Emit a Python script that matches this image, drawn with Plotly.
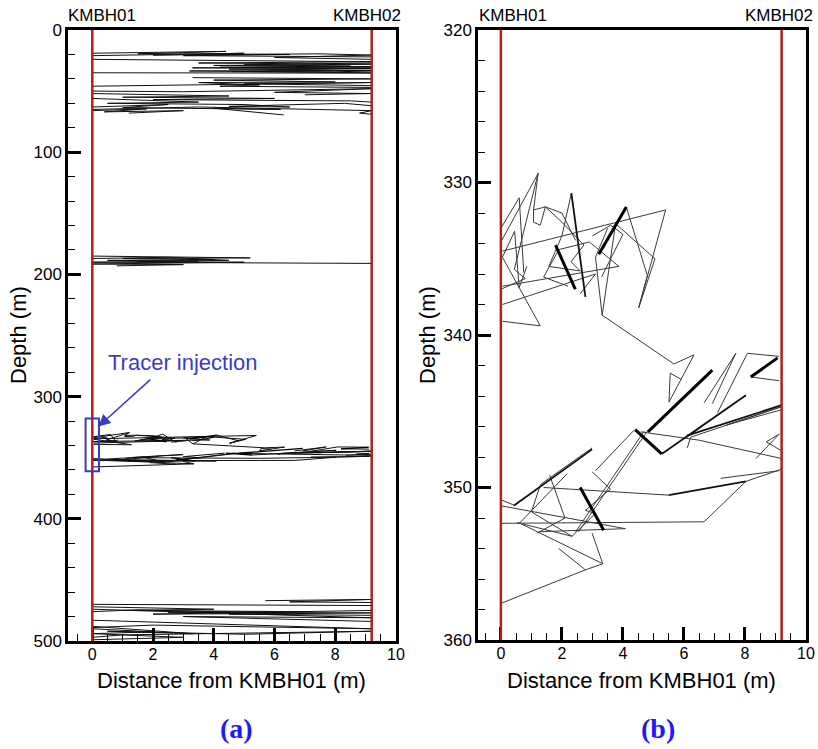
import plotly.graph_objects as go

# ---------------- data (x = distance from KMBH01 [m], d = depth [m]); None separates tracks
borehole_x = [0.0, 9.2]
borehole_names = ["KMBH01", "KMBH02"]

shallow_x = [0, 4.4, 1.5, 6.5, 3.0, 9.2, None,
             0, 5.0, 2.0, 7.5, 9.2, 6.0, 9.2, None,
             0, 9.2, 3.5, 9.2, 4.0, 9.2, 3.3, 9.2, 4.5, 9.2, 3.2, 9.2, None,
             0, 9.2, None,
             9.2, 5.0, 8.5, 4.2, 9.2, 5.8, 9.2, 4.6, 8.0, 9.2, None,
             3.3, 9.2, 4.0, 8.0, 3.5, 5.5, 4.2, 9.2, None,
             0, 9.2, 5.0, 9.2, None,
             0, 3.0, 9.2, 6.0, 9.2, 7.0, None,
             0, 4.5, 1.0, 6.0, 2.0, 8.5, 9.2, None,
             0, 3.5, 0.5, 5.0, 6.5, 4.5, 8.3, 9.2, None,
             0, 2.5, 1.0, 6.2, 4.0, 6.3, None,
             0, 3.5, 9.2, 8.8, 9.2, None,
             0, 1.8, 0.4, 3.0, 1.2]
shallow_d = [19, 17.5, 19.5, 20, 21, 22, None,
             21, 19, 20.5, 19.5, 20.5, 22.5, 24, None,
             24, 26, 27, 28, 29, 30, 31, 31.5, 32, 33, 33.5, 35, None,
             35, 35.3, None,
             27, 28.5, 29.5, 30.5, 31, 32.5, 33.5, 34, 34.5, 33, None,
             39, 40, 41, 42.5, 43, 45, 46, 47, None,
             46, 43, 44, 45.5, None,
             50, 50.5, 48, 51, 52, 53, None,
             52, 54, 55, 56, 57, 58, 59, None,
             56, 59, 60, 61, 63, 62.5, 60, 62, None,
             63, 61, 63.5, 65, 64, 69.5, None,
             65, 63, 66, 68, 69, None,
             66, 64.5, 67, 66, 68]

mid_x = [0, 5.2, 1.0, 4.0, 0.5, 3.5, 0, 9.2, None,
         0, 2.5, 4.5, 1.5, 5.0, 0, 3.0, 0.8]
mid_d = [185, 186.5, 187, 188, 188.5, 189, 190, 191, None,
         187, 186, 188.5, 189.5, 190, 191.5, 192, 193]

deep_x = [0, 9.2, None,
          5.7, 9.2, 6.5, 9.2, None,
          0, 4.0, 1.0, 7.0, 2.5, 9.2, 4.5, 9.2, None,
          0, 6.0, 9.2, 3.0, 9.2, None,
          0, 9.2, 2.0, 0, None,
          0, 3.3, 0.5, 5.0, 9.2, 1.0, 0, None,
          0, 2.0, 0, 3.0, 0, None,
          0, 1.5, 6.5, 2.0, 9.2]
deep_d = [470, 471, None,
          467, 466, 468, 468.5, None,
          472, 474, 475, 476, 476.5, 477, 478, 479, None,
          474, 478.5, 481, 480, 484, None,
          483, 490, 487, 489, None,
          488, 494, 492, 494.5, 492, 495, 497, None,
          490, 492.5, 494, 497, 499, None,
          476, 474.5, 477.5, 478, 475]

inj_thin_x = [0.0, 1.22, 0.44, 0.8, 0.0, None,
              1.22, 1.07, 1.46, 1.29, 1.07, 1.07, None,
              1.46, 2.0, 2.72, 2.3, 2.6, 1.57, 2.0, 2.31, None,
              0.05, 5.4, 4.52, 5.05, 3.76, 3.32, 3.1, 3.5, None,
              4.11, 4.8, 4.52, None,
              0.05, 3.87, 2.9, 1.9, 1.4, 2.2, None,
              0.05, 3.1, 2.6, None,
              0.05, 1.29, 0.05, 0.45, 0.6, 0.85, None,
              0.0, 0.6, 0.75, None,
              1.46, 2.0, 2.45, None,
              3.0, 3.6, 4.0, 3.3, None,
              3.32, 5.67, 6.33, 5.51, 5.55, 5.9, None,
              6.66, 7.7, 6.93, None,
              9.12, 8.08, 7.1, None,
              8.19, 9.12, None,
              6.11, 6.22, 9.2, 7.4, 9.2, None,
              8.03, 6.1, None,
              8.36, 9.12, 8.7, 9.2, None,
              9.12, 7.2, None,
              4.58, 6.5, 9.2, None,
              3.1, 4.36, None,
              2.45, 4.7, None,
              2.55, 4.8, None,
              0.0, 0.42, None,
              0.0, 4.08, 1.24, None,
              1.4, 5.5, None,
              0.0, 6.66, 8.03, 9.2, None,
              0.58, 2.17, None,
              2.99, 3.59, 2.77, 3.1, None,
              0.53, 2.33, 3.1, None,
              0.63, 3.34, 2.99, None,
              3.34, 2.77, 0.0, None,
              1.89, 2.77, None,
              2.99, 1.3, 1.0, 2.33, None,
              1.6, 2.1, 1.18]
inj_thin_d = [333.9, 329.4, 335.7, 336.3, 337.0, None,
              329.4, 331.8, 331.6, 332.8, 332.6, 331.8, None,
              331.6, 332.6, 334.1, 335.2, 335.8, 335.5, 333.5, 330.7, None,
              334.5, 331.8, 338.2, 335.0, 332.7, 338.7, 334.9, 333.0, None,
              331.6, 336.1, 338.2, None,
              336.8, 335.5, 333.9, 334.4, 336.2, 336.8, None,
              338.0, 336.0, 337.3, None,
              339.1, 339.4, 334.9, 333.2, 336.9, 335.5, None,
              333.0, 331.0, 335.9, None,
              331.6, 332.0, 333.8, None,
              333.5, 332.8, 333.4, 336.2, None,
              338.7, 341.9, 341.3, 344.4, 342.5, 342.9, None,
              344.45, 341.2, 344.5, None,
              341.4, 341.2, 345.1, None,
              342.75, 343.0, None,
              347.4, 346.7, 344.7, 345.9, 344.9, None,
              343.95, 346.7, None,
              348.1, 346.5, 347.0, 347.6, None,
              348.9, 349.4, None,
              346.35, 346.9, 348.1, None,
              348.9, 346.25, None,
              352.9, 346.3, None,
              352.9, 346.3, None,
              350.8, 351.15, None,
              351.2, 352.7, 352.9, None,
              350.0, 350.5, None,
              352.35, 352.25, 349.6, 348.8, None,
              352.4, 349.1, None,
              348.97, 350.1, 351.5, 351.7, None,
              352.3, 353.2, 351.7, None,
              352.35, 355.0, 353.0, None,
              355.0, 355.4, 357.6, None,
              353.99, 355.4, None,
              347.4, 349.8, 351.6, 353.2, None,
              349.2, 352.0, 353.0]

inj_mid_x = [2.31, 2.77, None, 5.27, 8.03, None, 0.42, 2.99, None, 5.5, 8.03, None, 6.1, 9.2]
inj_mid_d = [330.7, 337.5, None, 347.8, 343.95, None, 351.2, 347.5, None, 350.5, 349.6, None, 346.6, 344.6]

inj_thick_x = [1.79, 2.44, None, 4.11, 3.21, None, 4.82, 6.93, None, 4.4, 5.27, None,
               8.19, 9.07, None, 2.6, 3.37]
inj_thick_d = [334.1, 337.0, None, 331.6, 334.7, None, 346.35, 342.3, None, 346.2, 347.8, None,
               342.75, 341.5, None, 350.0, 352.8]

injection_box_x = [-0.22, 0.22]
injection_box_d = [318, 361]

# ---------------- figure
FONT = "Liberation Sans, Arial, sans-serif"
W, H = 818, 749
fig = go.Figure()

for xa, ya, big in (("x", "y", True), ("x2", "y2", False)):
    thin_col = "#111111" if big else "#3a3a3a"
    for xs, ds in ((shallow_x, shallow_d), (mid_x, mid_d), (deep_x, deep_d)):
        fig.add_trace(go.Scatter(x=xs, y=ds, mode="lines", xaxis=xa, yaxis=ya,
                                 line=dict(color="#111111", width=1), hoverinfo="skip",
                                 showlegend=False, connectgaps=False))
    fig.add_trace(go.Scatter(x=inj_thin_x, y=inj_thin_d, mode="lines", xaxis=xa, yaxis=ya,
                             line=dict(color=thin_col, width=1), hoverinfo="skip",
                             showlegend=False, connectgaps=False))
    fig.add_trace(go.Scatter(x=inj_mid_x, y=inj_mid_d, mode="lines", xaxis=xa, yaxis=ya,
                             line=dict(color="#111111", width=1 if big else 1.8),
                             hoverinfo="skip", showlegend=False, connectgaps=False))
    fig.add_trace(go.Scatter(x=inj_thick_x, y=inj_thick_d, mode="lines", xaxis=xa, yaxis=ya,
                             line=dict(color="#000000", width=1.3 if big else 3),
                             hoverinfo="skip", showlegend=False, connectgaps=False))

# borehole red lines
for xa, ya in (("x", "y"), ("x2", "y2")):
    for bx in borehole_x:
        fig.add_shape(type="line", xref=xa, yref=f"{ya} domain", x0=bx, x1=bx, y0=0, y1=1,
                      line=dict(color="#b3201c", width=2.5), layer="above")

# injection box
blue = "#3b3bc6"
fig.add_shape(type="rect", xref="x", yref="y", x0=injection_box_x[0], x1=injection_box_x[1],
              y0=injection_box_d[0], y1=injection_box_d[1],
              line=dict(color=blue, width=2), layer="above")

axis_common = dict(showline=True, mirror=True, linewidth=2.5, linecolor="black",
                   ticks="inside", ticklen=13, tickwidth=2.5, tickcolor="black",
                   showgrid=False, zeroline=False, automargin=False)
yfont = dict(family=FONT, size=17, color="black")
xfont = dict(family=FONT, size=16, color="black")

fig.update_layout(
    width=W, height=H, autosize=False,
    margin=dict(l=0, r=0, t=0, b=0, autoexpand=False),
    paper_bgcolor="white", plot_bgcolor="white",
    xaxis=dict(domain=[68 / W, 396 / W], anchor="y", range=[-0.8, 10], tick0=0, dtick=2,
               tickfont=xfont, ticklabelstandoff=-3,
               minor=dict(ticks="inside", ticklen=7, tickwidth=1, tickcolor="black", dtick=0.5,
                          showgrid=False),
               **axis_common),
    yaxis=dict(domain=[1 - 641 / H, 1 - 30 / H], anchor="x", range=[500, 0], tick0=0, dtick=100,
               tickfont=yfont,
               minor=dict(ticks="inside", ticklen=7, tickwidth=1, tickcolor="black", dtick=20,
                          showgrid=False),
               **axis_common),
    xaxis2=dict(domain=[478 / W, 806 / W], anchor="y2", range=[-0.75, 10], tick0=0, dtick=2,
                tickfont=xfont, ticklabelstandoff=-3,
                minor=dict(ticks="inside", ticklen=7, tickwidth=1, tickcolor="black", dtick=0.5,
                           showgrid=False),
                **axis_common),
    yaxis2=dict(domain=[1 - 640 / H, 1 - 30 / H], anchor="x2", range=[360, 320], tick0=320,
                dtick=10, tickfont=yfont,
                minor=dict(ticks="inside", ticklen=7, tickwidth=1, tickcolor="black", dtick=2,
                           showgrid=False),
                **axis_common),
)

ann = []
# borehole labels
for xref, xs in (("x", (0.33, 9.05)), ("x2", (0.39, 9.1))):
    for name, xv in zip(borehole_names, xs):
        ann.append(dict(text=name, xref=xref, yref="paper", x=xv, y=1 - 15 / H,
                        xanchor="center", yanchor="middle", showarrow=False,
                        font=dict(family=FONT, size=17, color="black")))
# axis titles
for cx in (18, 427):
    ann.append(dict(text="Depth (m)", xref="paper", yref="paper", x=cx / W, y=1 - 335 / H,
                    textangle=-90, showarrow=False, xanchor="center", yanchor="middle",
                    font=dict(family=FONT, size=22, color="black")))
for cx in (232, 641):
    ann.append(dict(text="Distance from KMBH01 (m)", xref="paper", yref="paper", x=cx / W,
                    y=1 - 680 / H, showarrow=False, xanchor="center", yanchor="middle",
                    font=dict(family=FONT, size=22, color="black")))
# captions
for txt, cx in (("(a)", 237), ("(b)", 658)):
    ann.append(dict(text=f"<b>{txt}</b>", xref="paper", yref="paper", x=cx / W, y=1 - 728 / H,
                    showarrow=False, xanchor="center", yanchor="middle",
                    font=dict(family="Liberation Serif, Times New Roman, serif", size=28,
                              color="#1a1aff")))
# tracer injection
ann.append(dict(text="Tracer injection", xref="paper", yref="paper", x=183 / W, y=1 - 362 / H,
                showarrow=False, xanchor="center", yanchor="middle",
                font=dict(family=FONT, size=22, color=blue)))
ann.append(dict(text="", xref="x", yref="y", x=0.2, y=324.5, axref="x", ayref="y",
                ax=1.96, ay=285, showarrow=True, arrowhead=2, arrowsize=1.6,
                arrowwidth=1.5, arrowcolor=blue))
fig.update_layout(annotations=ann)

fig.write_html("out.html")
